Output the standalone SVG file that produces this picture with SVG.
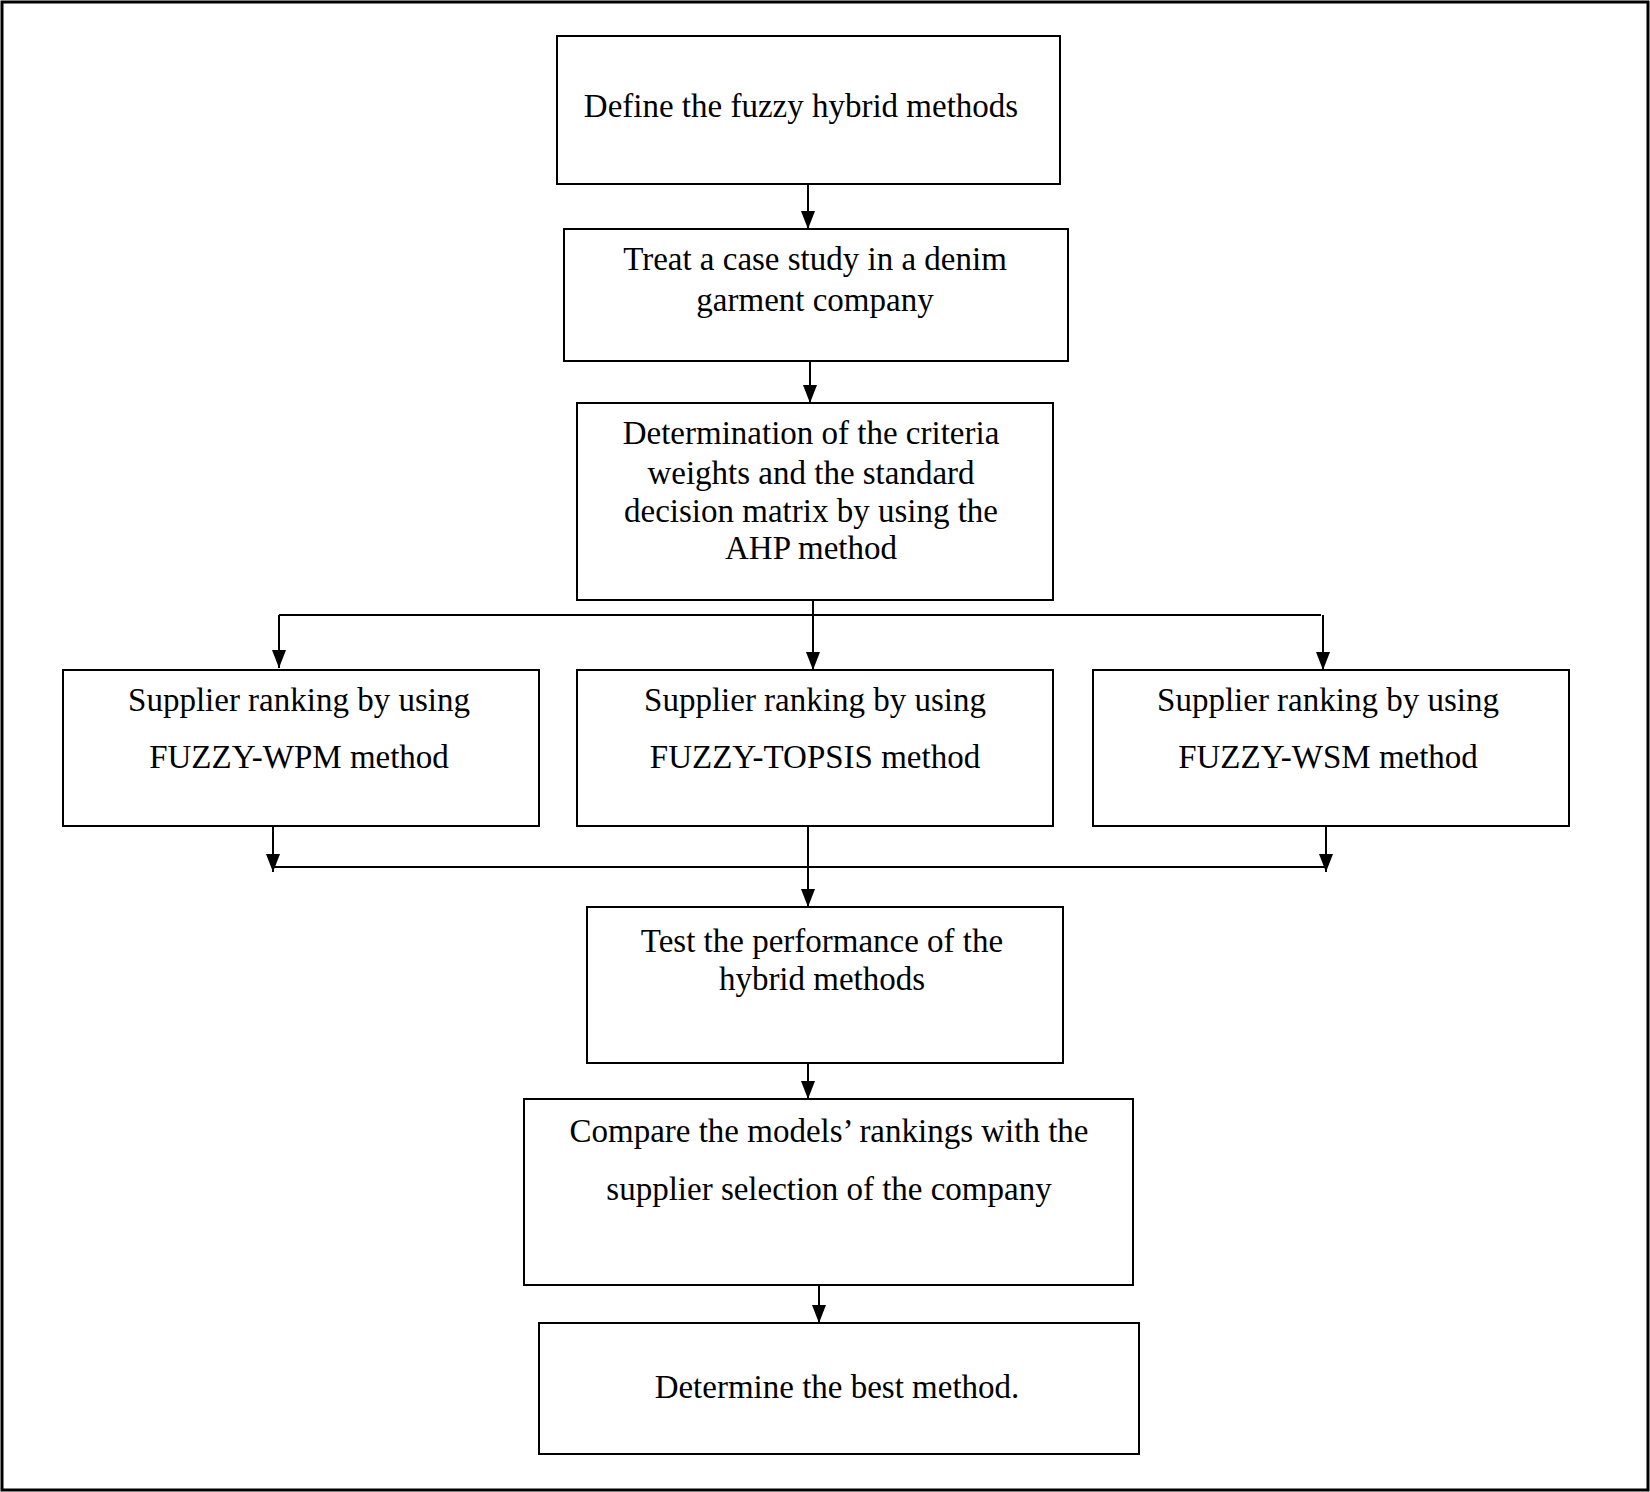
<svg xmlns="http://www.w3.org/2000/svg" width="1650" height="1492" viewBox="0 0 1650 1492">
<style>
.b{fill:#fff;stroke:#000;stroke-width:2}
.t{font-family:"Liberation Serif","Times New Roman",serif;font-size:33px;fill:#000;text-anchor:middle}
.c{fill:none;stroke:#000;stroke-width:2}
</style>
<defs><marker id="d" markerWidth="14" markerHeight="18" refX="7" refY="18" markerUnits="userSpaceOnUse" viewBox="0 0 14 18"><path d="M0,0 L14,0 L7,18 Z" fill="#000"/></marker></defs>
<rect x="2" y="2" width="1646" height="1488" fill="#fff" stroke="#000" stroke-width="3"/>
<g id="connectors">
<line class="c" x1="808" y1="184" x2="808" y2="229" marker-end="url(#d)"/>
<line class="c" x1="810" y1="361" x2="810" y2="403" marker-end="url(#d)"/>
<line class="c" x1="813" y1="600" x2="813" y2="670" marker-end="url(#d)"/>
<line class="c" x1="279" y1="615" x2="1321" y2="615"/>
<line class="c" x1="279" y1="615" x2="279" y2="668" marker-end="url(#d)"/>
<line class="c" x1="1323" y1="615" x2="1323" y2="670" marker-end="url(#d)"/>
<line class="c" x1="273" y1="826" x2="273" y2="872" marker-end="url(#d)"/>
<line class="c" x1="1326" y1="826" x2="1326" y2="872" marker-end="url(#d)"/>
<line class="c" x1="273" y1="867" x2="1326" y2="867"/>
<line class="c" x1="808" y1="826" x2="808" y2="907" marker-end="url(#d)"/>
<line class="c" x1="808" y1="1063" x2="808" y2="1099" marker-end="url(#d)"/>
<line class="c" x1="819" y1="1285" x2="819" y2="1323" marker-end="url(#d)"/>
</g>
<g id="n1"><rect class="b" x="557" y="36" width="503" height="148"/><text class="t" x="801" y="117">Define the fuzzy hybrid methods</text></g>
<g id="n2"><rect class="b" x="564" y="229" width="504" height="132"/><text class="t" x="815" y="270">Treat a case study in a denim</text><text class="t" x="815" y="311">garment company</text></g>
<g id="n3"><rect class="b" x="577" y="403" width="476" height="197"/><text class="t" x="811" y="444">Determination of the criteria</text><text class="t" x="811" y="484">weights and the standard</text><text class="t" x="811" y="522">decision matrix by using the</text><text class="t" x="811" y="559">AHP method</text></g>
<g id="n4"><rect class="b" x="63" y="670" width="476" height="156"/><text class="t" x="299" y="711">Supplier ranking by using</text><text class="t" x="299" y="768">FUZZY-WPM method</text></g>
<g id="n5"><rect class="b" x="577" y="670" width="476" height="156"/><text class="t" x="815" y="711">Supplier ranking by using</text><text class="t" x="815" y="768">FUZZY-TOPSIS method</text></g>
<g id="n6"><rect class="b" x="1093" y="670" width="476" height="156"/><text class="t" x="1328" y="711">Supplier ranking by using</text><text class="t" x="1328" y="768">FUZZY-WSM method</text></g>
<g id="n7"><rect class="b" x="587" y="907" width="476" height="156"/><text class="t" x="822" y="952">Test the performance of the</text><text class="t" x="822" y="990">hybrid methods</text></g>
<g id="n8"><rect class="b" x="524" y="1099" width="609" height="186"/><text class="t" x="829" y="1142">Compare the models’ rankings with the</text><text class="t" x="829" y="1200">supplier selection of the company</text></g>
<g id="n9"><rect class="b" x="539" y="1323" width="600" height="131"/><text class="t" x="837" y="1398">Determine the best method.</text></g>
</svg>
